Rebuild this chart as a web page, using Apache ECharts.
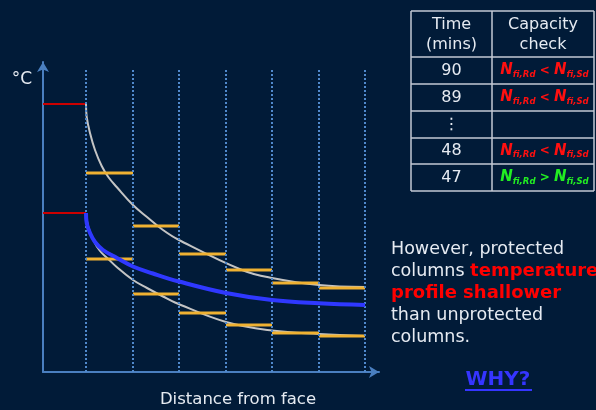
<!DOCTYPE html>
<html>
<head>
<meta charset="utf-8">
<script src="https://cdn.jsdelivr.net/npm/echarts@6/dist/echarts.min.js"></script>
<style>
html,body{margin:0;padding:0;background:#011b38;}
#chart{width:596px;height:410px;}
</style>
</head>
<body>
<div id="chart"></div>
<script>
// ---- data (x = distance, y = temperature, arbitrary units) ----
const dividerX = [43, 90, 136, 183, 229, 276, 322];
const dividerTop = 304;
const surfaceX = [0, 43];
const surfaceTemps = [268, 159];
const upperSteps = [199, 146, 118, 102, 89, 84];
const lowerSteps = [113, 78, 59, 47, 39, 36];
const upperCurve = [[43,268],[43.7,255],[47,239],[52,222],[58.7,206],[65.3,195],[73.7,185],[90,167],[104,155],[120,142],[136,132],[199,102],[229,94],[276,87],[322,85]];
const lowerCurve = [[43,159],[45.3,145],[50.3,132],[57,121],[65.3,113],[73.7,105],[90,92],[104,84],[120,75.5],[132,69.5],[183,50],[229,41.5],[276,38],[322,36]];
const protectedCurve = [[43,159],[43.7,149],[47,139],[52,130],[60,122],[74,114],[90,105.5],[110,98.5],[136,90.5],[183,79],[229,72],[276,68.7],[322,67]];
const tableHeader = ['Time\n(mins)', 'Capacity\ncheck'];
const timeRows = ['90', '89', '⋮', '48', '47'];
const checkRows = ['<', '<', '', '<', '>'];
const yAxisLabel = '°C';
const xAxisLabel = 'Distance from face';

// ---- build ----
const chart = echarts.init(document.getElementById('chart'));
const FONT = '"DejaVu Sans", Verdana, sans-serif';
const FONTC = '"DejaVu Sans Condensed", "DejaVu Sans", sans-serif';
const axisColor = '#4a7fc0';

function steps(levels) {
  const d = [];
  levels.forEach((v, i) => {
    d.push([dividerX[i], v], [dividerX[i + 1], v], [dividerX[i + 1], '-']);
  });
  return d;
}
const redData = [];
surfaceTemps.forEach(t => { redData.push([surfaceX[0], t], [surfaceX[1], t], [surfaceX[1], '-']); });

const graphics = [];
// Table
const tL = 411, tM = 492, tR = 594;
const rowYs = [11, 57, 84, 111, 138, 164, 191];
rowYs.forEach(y => graphics.push({type:'line', shape:{x1:tL, y1:y, x2:tR, y2:y}, style:{stroke:'#c3cad4', lineWidth:1.5}, silent:true}));
[tL, tM, tR].forEach(x => graphics.push({type:'line', shape:{x1:x, y1:rowYs[0], x2:x, y2:rowYs[6]}, style:{stroke:'#c3cad4', lineWidth:1.5}, silent:true}));
graphics.push({type:'text', x:(tL+tM)/2, y:35, style:{text:tableHeader[0], font:'16px '+FONT, fill:'#e6ebf2', align:'center', verticalAlign:'middle', lineHeight:20}});
graphics.push({type:'text', x:(tM+tR)/2, y:35, style:{text:tableHeader[1], font:'16px '+FONT, fill:'#e6ebf2', align:'center', verticalAlign:'middle', lineHeight:20}});
timeRows.forEach((t, i) => {
  const cy = (rowYs[i+1] + rowYs[i+2]) / 2;
  graphics.push({type:'text', x:(tL+tM)/2, y:cy, style:{text:t, font:'16px '+FONT, fill:'#e6ebf2', align:'center', verticalAlign:'middle'}});
  const c = checkRows[i];
  if (c) {
    const col = c === '<' ? '#ff1010' : '#22ee22';
    graphics.push({type:'text', x:(tM+tR)/2 + 1.5, y:cy, style:{
      text:'{n|N}{s|fi,Rd}{o| ' + c + ' }{n|N}{s|fi,Sd}',
      align:'center', verticalAlign:'middle',
      rich:{
        n:{font:'italic bold 15px '+FONT, fill:col, verticalAlign:'middle', lineHeight:18},
        s:{font:'italic bold 9.5px '+FONTC, fill:col, verticalAlign:'bottom', lineHeight:7},
        o:{font:'bold 12px '+FONT, fill:col, verticalAlign:'middle', lineHeight:18}
      }
    }});
  }
});
// Axis labels
graphics.push({type:'text', x:22, y:80, style:{text:yAxisLabel, font:'17px '+FONT, fill:'#e6ebf2', align:'center', verticalAlign:'middle'}});
graphics.push({type:'text', x:238, y:400, style:{text:xAxisLabel, font:'16.5px '+FONT, fill:'#e6ebf2', align:'center', verticalAlign:'middle'}});
// Paragraph
graphics.push({type:'text', x:391, y:238, style:{
  text:'{w|However, protected}\n{w|columns }{r|temperature}\n{r|profile shallower}\n{w|than unprotected}\n{w|columns.}',
  align:'left', verticalAlign:'top',
  rich:{
    w:{font:'17.5px '+FONT, fill:'#e6ebf2', lineHeight:22},
    r:{font:'bold 18px '+FONT, fill:'#ff0000', lineHeight:22}
  }
}});
graphics.push({type:'text', x:498, y:380, style:{text:'WHY?', font:'bold 20px '+FONT, fill:'#3535ff', align:'center', verticalAlign:'middle'}});
graphics.push({type:'line', shape:{x1:465, y1:390, x2:532, y2:390}, style:{stroke:'#3535ff', lineWidth:2}});

const option = {
  backgroundColor: '#011b38',
  animation: false,
  grid: {left:43, top:62, width:336, height:310, containLabel:false},
  xAxis: {
    type:'value', min:0, max:336,
    axisLine:{show:true, symbol:['none','arrow'], symbolSize:[9,10], lineStyle:{color:axisColor, width:2}},
    axisTick:{show:false}, axisLabel:{show:false}, splitLine:{show:false}
  },
  yAxis: {
    type:'value', min:0, max:310,
    axisLine:{show:true, symbol:['none','arrow'], symbolSize:[9,10], lineStyle:{color:axisColor, width:2}},
    axisTick:{show:false}, axisLabel:{show:false}, splitLine:{show:false}
  },
  series: [
    {type:'line', data:[], silent:true,
     markLine:{silent:true, symbol:['none','none'], label:{show:false},
       lineStyle:{color:'#5089cc', width:2, type:[2,2]},
       data: dividerX.map(x => [{coord:[x,0]},{coord:[x,dividerTop]}])}},
    {type:'line', data:redData, showSymbol:false, lineStyle:{color:'#cc0000', width:2}, silent:true, z:3},
    {type:'line', data:upperCurve, smooth:0.4, showSymbol:false, lineStyle:{color:'#c4c4c4', width:2}, silent:true, z:3},
    {type:'line', data:lowerCurve, smooth:0.4, showSymbol:false, lineStyle:{color:'#c4c4c4', width:2}, silent:true, z:3},
    {type:'line', data:steps(upperSteps), showSymbol:false, lineStyle:{color:'#f0b232', width:3}, silent:true, z:4},
    {type:'line', data:steps(lowerSteps), showSymbol:false, lineStyle:{color:'#f0b232', width:3}, silent:true, z:4},
    {type:'line', data:protectedCurve, smooth:0.4, showSymbol:false, lineStyle:{color:'#2f38ff', width:4}, silent:true, z:5}
  ],
  graphic: graphics
};
chart.setOption(option);
</script>
</body>
</html>
